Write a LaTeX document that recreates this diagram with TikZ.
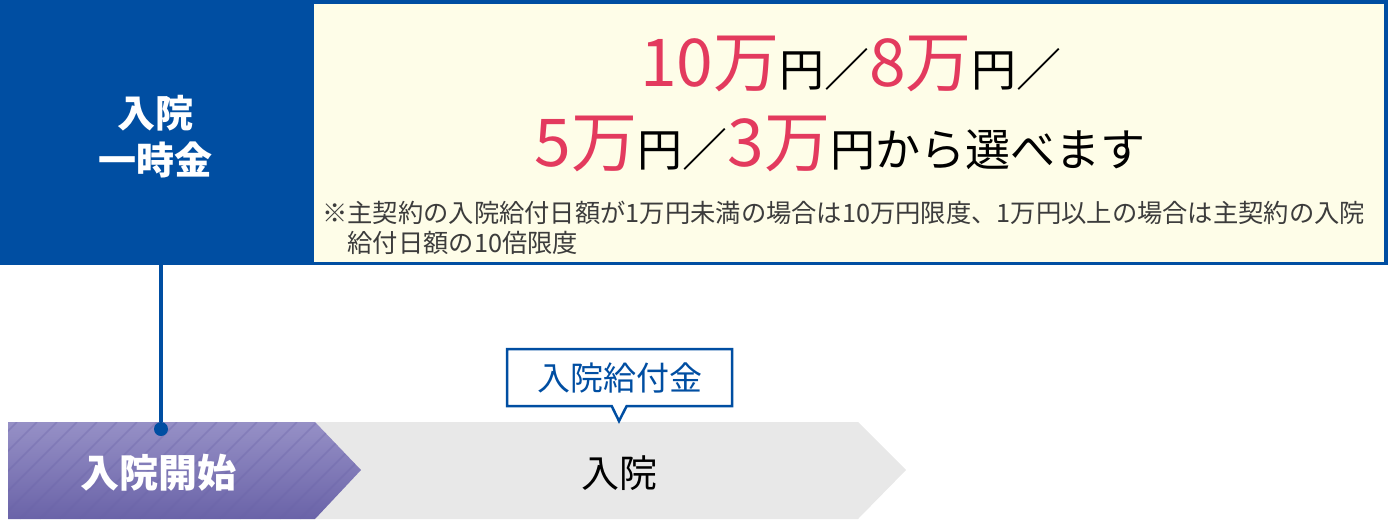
\documentclass[tikz,border=0pt]{standalone}
\usepackage{fontspec}
\setmainfont{Noto Sans CJK JP}
\usetikzlibrary{shapes.callouts}
\definecolor{hosblue}{RGB}{0,78,162}
\definecolor{cream}{RGB}{254,253,232}
\definecolor{amtpink}{RGB}{227,58,94}
\definecolor{purptop}{RGB}{150,144,198}
\definecolor{purpbot}{RGB}{106,99,168}
\definecolor{steparrow}{RGB}{232,232,232}
\definecolor{notegray}{RGB}{60,60,60}
\newcommand{\amt}[1]{{\color{amtpink}\fontsize{66}{70}\selectfont #1万}}
\newcommand{\yn}[1]{{\fontsize{45}{50}\selectfont #1}}
\tikzset{
  hosline/.style={draw=hosblue, line width=3.5pt},
  dotnode/.style={circle, fill=hosblue, inner sep=0pt, minimum size=14pt},
  benefit/.style={rectangle callout, draw=hosblue, line width=2.5pt, fill=white,
    minimum width=225pt, minimum height=57pt, callout pointer width=15pt,
    text=hosblue, font=\fontsize{33}{36}\selectfont},
  stripe/.style={draw=purpbot, opacity=0.35, line width=1.6pt}
}
\begin{document}
\begin{tikzpicture}[x=1pt, y=-1pt]
        \useasboundingbox (0,0) rectangle (1390,520);
        % frame
        \node[fill=hosblue, inner sep=0pt, minimum width=1388pt, minimum height=265pt, anchor=north west] (frame) at (0,0) {};
        \node[fill=cream, inner sep=0pt, minimum width=1070pt, minimum height=258pt, anchor=north west] (choice) at (314,4) {};
        \node[text=white, font=\bfseries\fontsize{38}{47}\selectfont, align=center] (ichiji) at (155,137) {入院\\一時金};
        \node[anchor=base] (line1) at (851,86) {\amt{10}\yn{円／}\amt{8}\yn{円／}};
        \node[anchor=base] (line2) at (840,166) {\amt{5}\yn{円／}\amt{3}\yn{円から選べます}};
        \node[anchor=base west, inner sep=0pt, text=notegray, font=\fontsize{25.3}{30}\selectfont, align=left] (note) at (322,252)
          {※主契約の入院給付日額が1万円未満の場合は10万円限度、1万円以上の場合は主契約の入院\\\hspace*{1em}給付日額の10倍限度};

        % arrows
        \fill[steparrow] (300,422) -- (858,422) -- (906,470) -- (858,519) -- (300,519) -- cycle;
        \path[top color=purptop, bottom color=purpbot] (8,422) -- (315,422) -- (361,470) -- (315,519) -- (8,519) -- cycle;
        \begin{scope}
          \clip (8,422) -- (315,422) -- (361,470) -- (315,519) -- (8,519) -- cycle;
          \foreach \i in {0,...,24}
            \draw[stripe] (\i*20-100,519) -- ++(97,-97);
        \end{scope}
        \node[text=white, font=\bfseries\fontsize{39}{40}\selectfont] (start) at (158,473) {入院開始};
        \node[text=black, font=\fontsize{38}{40}\selectfont] (stay) at (619,473) {入院};

        % benefit
        \node[benefit, callout absolute pointer={(619,421)}] (kyufu) at (619.5,377.5) {入院給付金};
        \node[dotnode] (startdot) at (161,429) {};
        \draw[hosline] (frame.south -| startdot) -- (startdot);
\end{tikzpicture}
\end{document}
